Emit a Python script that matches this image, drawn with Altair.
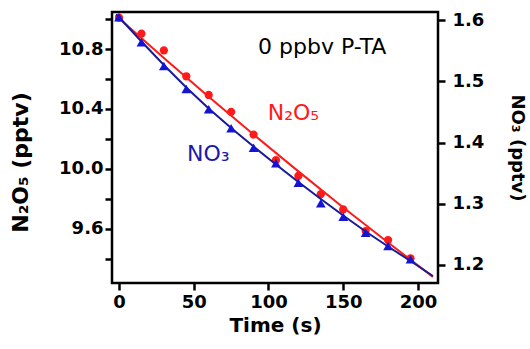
import altair as alt
import pandas as pd

# measured points
time_pts = [0, 15, 30, 45, 60, 75, 90, 105, 120, 135, 150, 165, 180, 195]
n2o5_pts = [11.009, 10.903, 10.791, 10.618, 10.493, 10.380, 10.229, 10.058,
            9.953, 9.831, 9.729, 9.585, 9.525, 9.403]
no3_pts = [1.6044, 1.5636, 1.5249, 1.4873, 1.4542, 1.4232, 1.3915, 1.3660,
           1.3344, 1.3007, 1.2789, 1.2527, 1.2310, 1.2093]

# fitted curves
n2o5_fit_t = [-2, 0, 30, 60, 90, 120, 150, 180, 210]
n2o5_fit = [11.023, 11.005, 10.740, 10.481, 10.229, 9.983, 9.742, 9.508, 9.279]
no3_fit_t = [-2, 0, 15, 30, 45, 60, 75, 90, 105, 120, 135, 150, 165, 180, 195, 210]
no3_fit = [1.6090, 1.6044, 1.5649, 1.5265, 1.4898, 1.4555, 1.4237, 1.3935,
           1.3641, 1.3355, 1.3078, 1.2808, 1.2547, 1.2302, 1.2065, 1.1820]

x_ticks = [0, 50, 100, 150, 200]
left_ticks = [9.4, 9.6, 9.8, 10.0, 10.2, 10.4, 10.6, 10.8, 11.0]
left_labels = ['9.6', '10.0', '10.4', '10.8']
right_ticks = [1.2, 1.3, 1.4, 1.5, 1.6]

notes_text = ['0 ppbv P-TA', 'N\u2082O\u2085', 'NO\u2083']
notes_t = [93, 99.5, 45.5]
notes_y = [10.765, 10.325, 10.053]
notes_color = ['black', '#FF1A1A', '#1A1AA8']

RED = '#FF1A1A'
BLUE_PT = '#1414D2'
BLUE_LN = '#1A1A96'
FONT = 'DejaVu Sans'

pts = pd.DataFrame({'t': time_pts, 'n2o5': n2o5_pts, 'no3': no3_pts})
rfit = pd.DataFrame({'t': n2o5_fit_t, 'n2o5': n2o5_fit})
bfit = pd.DataFrame({'t': no3_fit_t, 'no3': no3_fit})
notes = pd.DataFrame({'t': notes_t, 'v': notes_y, 'txt': notes_text, 'c': notes_color})

xs = alt.Scale(domain=[-4.7, 213.4], nice=False, zero=False)
xax = alt.Axis(values=x_ticks, title='Time (s)', labelPadding=3, titlePadding=4)
ys_left = alt.Scale(domain=[9.238, 11.047], nice=False, zero=False)
yax_left = alt.Axis(values=left_ticks, format='.1f',
                    labelExpr="indexof(%s, datum.label) >= 0 ? datum.label : ''" % str(left_labels),
                    title='N\u2082O\u2085 (pptv)', titleFontSize=22, titleX=-80, titleY=150)
ys_right = alt.Scale(domain=[1.1706, 1.6131], nice=False, zero=False)
yax_right = alt.Axis(values=right_ticks, format='.1f', orient='right',
                     title='NO\u2083 (pptv)', titleFontSize=18, labelPadding=7,
                     titlePadding=24)

X = alt.X('t:Q', scale=xs, axis=xax)

red_line = alt.Chart(rfit).mark_line(color=RED, strokeWidth=2).encode(
    x=X, y=alt.Y('n2o5:Q', scale=ys_left, axis=yax_left))
red_pts = alt.Chart(pts).mark_point(shape='circle', filled=True, opacity=1,
                                    color=RED, size=68).encode(
    x=X, y=alt.Y('n2o5:Q', scale=ys_left, axis=yax_left))
texts = alt.Chart(notes).mark_text(font=FONT, fontSize=22, align='left',
                                   baseline='alphabetic').encode(
    x=X, y=alt.Y('v:Q', scale=ys_left, axis=yax_left),
    text='txt:N', color=alt.Color('c:N', scale=None))

blue_line = alt.Chart(bfit).mark_line(color=BLUE_LN, strokeWidth=2).encode(
    x=X, y=alt.Y('no3:Q', scale=ys_right, axis=yax_right))
blue_pts = alt.Chart(pts).mark_point(shape='triangle-up', filled=True, opacity=1,
                                     color=BLUE_PT, size=95).encode(
    x=X, y=alt.Y('no3:Q', scale=ys_right, axis=yax_right))

left_group = alt.layer(red_line, red_pts, texts)
right_group = alt.layer(blue_line, blue_pts)

chart = alt.layer(left_group, right_group).resolve_scale(y='independent').properties(
    width=326, height=271,
    autosize=alt.AutoSizeParams(type='none'),
    padding={'left': 112, 'top': 12, 'right': 92, 'bottom': 66},
).configure_view(stroke='black', strokeWidth=2.5).configure_axis(
    domain=False, grid=False, ticks=True, tickColor='black', tickWidth=2.5, tickSize=7,
    labelFont=FONT, labelFontWeight='bold', labelFontSize=18, labelColor='black',
    titleFont=FONT, titleFontWeight='bold', titleFontSize=20, titleColor='black'
)

chart.save('out.html', embed_options={'renderer': 'svg', 'actions': False})
